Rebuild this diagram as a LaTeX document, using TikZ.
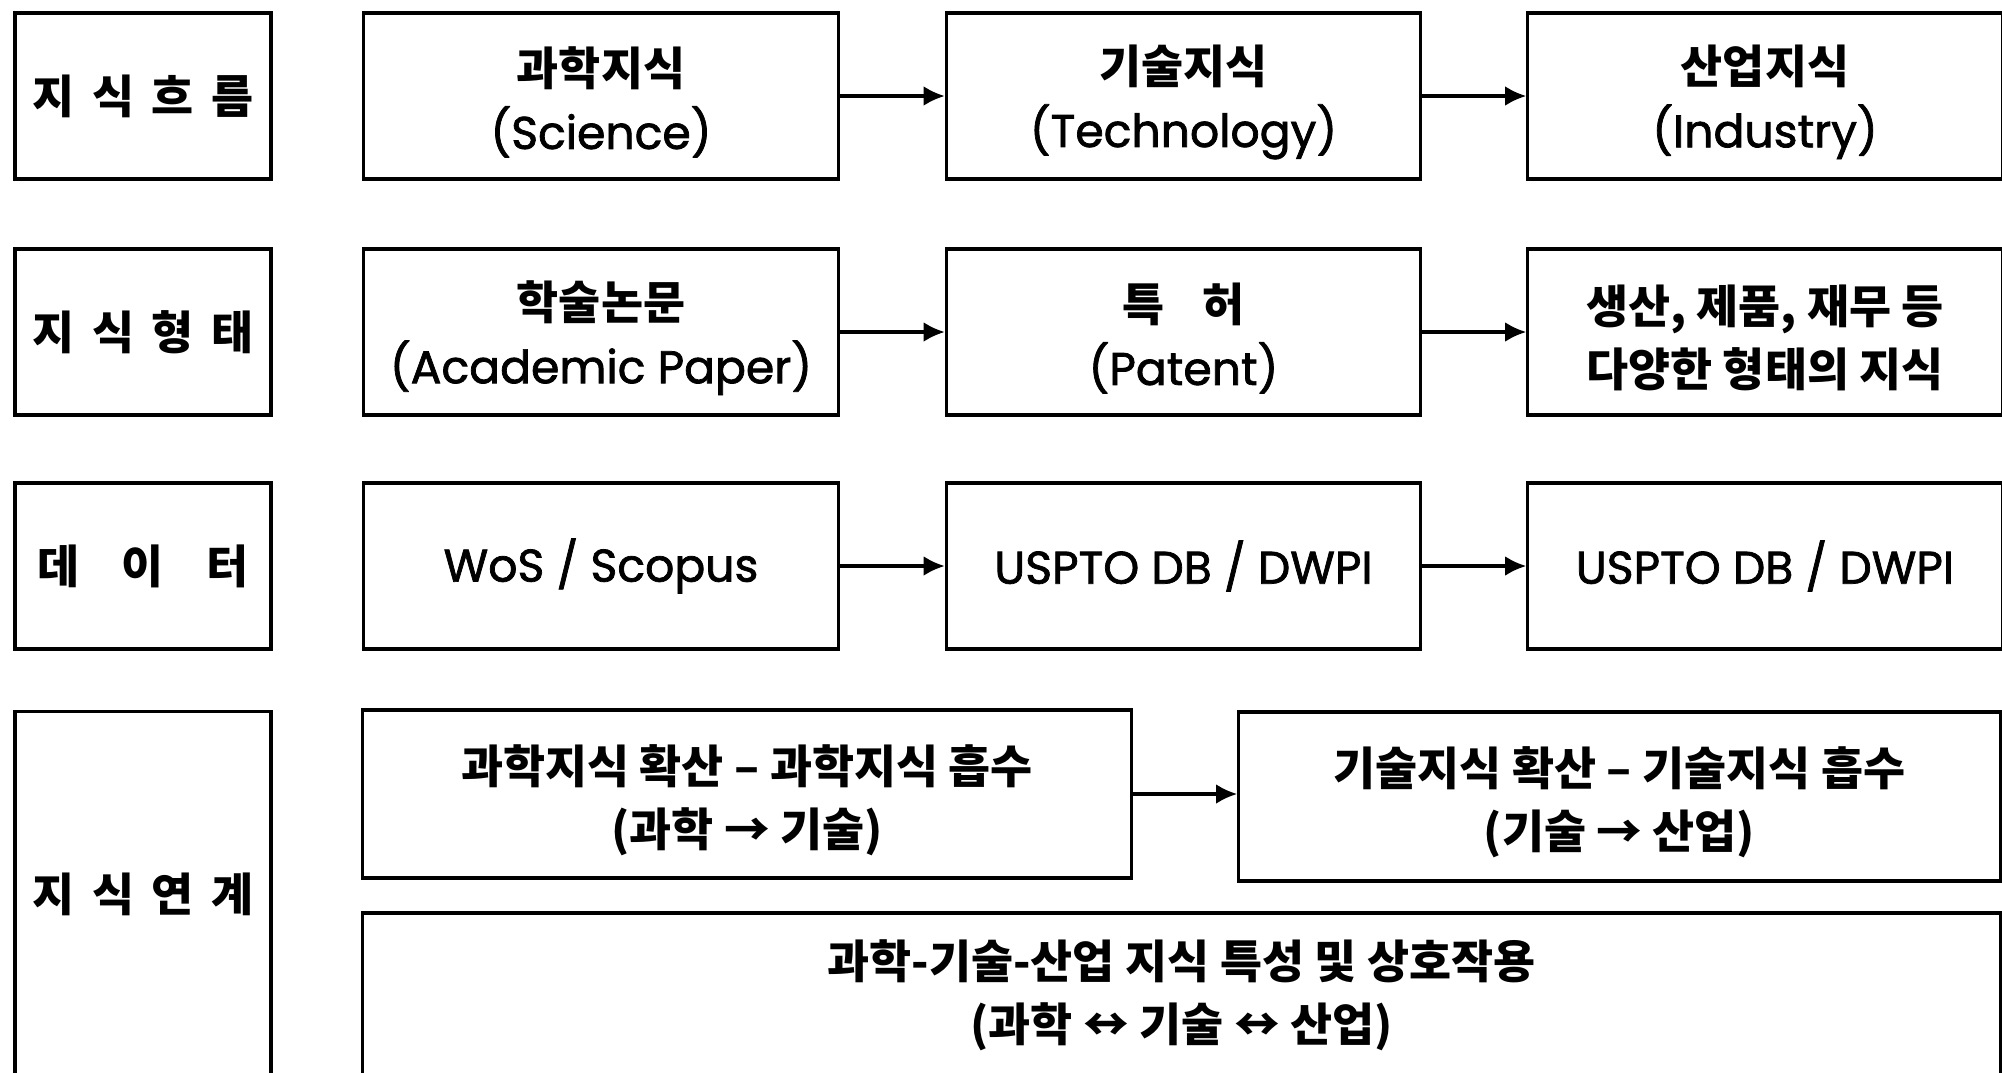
\documentclass[tikz,border=0pt]{standalone}
\usepackage{fontspec}
\setmainfont{Poppins}[FakeBold=1.6]
\newfontfamily\krfont{Noto Sans CJK KR}
\newcommand\kor[1]{{\krfont\bfseries #1}}
\newcommand\tstr{\rule{0pt}{14.5pt}}
\usetikzlibrary{arrows.meta}

\begin{document}
\begin{tikzpicture}[x=0.01cm, y=-0.01cm,
  box/.style={draw, line width=0.9pt, inner sep=0pt, align=center,
    font=\fontsize{13}{18}\selectfont},
  labelbox/.style={box, minimum width=2.56cm},
  colbox/.style={box, minimum width=4.74cm, minimum height=1.66cm},
  flow/.style={line width=0.9pt, -{Latex[length=6pt,width=5.6pt]}},
]
\useasboundingbox (0,0) rectangle (2002,1072);
\clip (0,0) rectangle (2002,1072);

% row labels
\node[labelbox, minimum height=1.66cm] (l1) at (143,96)  {\kor{지\kern5pt 식\kern5pt 흐\kern5pt 름}};
\node[labelbox, minimum height=1.66cm] (l2) at (143,332) {\kor{지\kern5pt 식\kern5pt 형\kern5pt 태}};
\node[labelbox, minimum height=1.66cm] (l3) at (143,566) {\kor{데\kern12pt 이\kern12pt 터}};
\node[labelbox, minimum height=3.65cm] (l4) at (143,894.5) {\kor{지\kern5pt 식\kern5pt 연\kern5pt 계}};

% knowledge flow
\node[colbox] (sci) at (601,96)    {\tstr\kor{과학지식}\\(Science)};
\node[colbox] (tec) at (1183.5,96) {\tstr\kor{기술지식}\\(Technology)};
\node[colbox] (ind) at (1765,96)   {\tstr\kor{산업지식}\\(Industry)};

% knowledge forms
\node[colbox] (pap) at (601,332)    {\tstr\kor{학술논문}\\(Academic Paper)};
\node[colbox] (pat) at (1183.5,332) {\tstr\kor{특\kern11pt 허}\\(Patent)};
\node[colbox] (oth) at (1765,332)   {\tstr\kor{생산, 제품, 재무 등}\\\kor{다양한 형태의 지식}};

% data sources
\node[colbox] (wos) at (601,566)    {WoS / Scopus};
\node[colbox] (us1) at (1183.5,566) {USPTO DB / DWPI};
\node[colbox] (us2) at (1765,566)   {USPTO DB / DWPI};

% knowledge linkage
\node[box, minimum width=7.68cm, minimum height=1.68cm] (ka) at (747,794)
  {\tstr\kor{과학지식 확산 – 과학지식 흡수}\\\kor{(과학 → 기술)}};
\node[box, minimum width=7.61cm, minimum height=1.69cm] (kb) at (1619.5,796.5)
  {\tstr\kor{기술지식 확산 – 기술지식 흡수}\\\kor{(기술 → 산업)}};
\node[box, minimum width=16.37cm, minimum height=1.64cm] (kc) at (1181.5,995)
  {\kor{과학-기술-산업 지식 특성 및 상호작용}\\\kor{(과학 ↔ 기술 ↔ 산업)}};

% connectors
\draw[flow] (sci.east) -- (tec.west);
\draw[flow] (tec.east) -- (ind.west);
\draw[flow] (pap.east) -- (pat.west);
\draw[flow] (pat.east) -- (oth.west);
\draw[flow] (wos.east) -- (us1.west);
\draw[flow] (us1.east) -- (us2.west);
\draw[flow] (ka.east) -- (ka.east -| kb.west);
\end{tikzpicture}
\end{document}
